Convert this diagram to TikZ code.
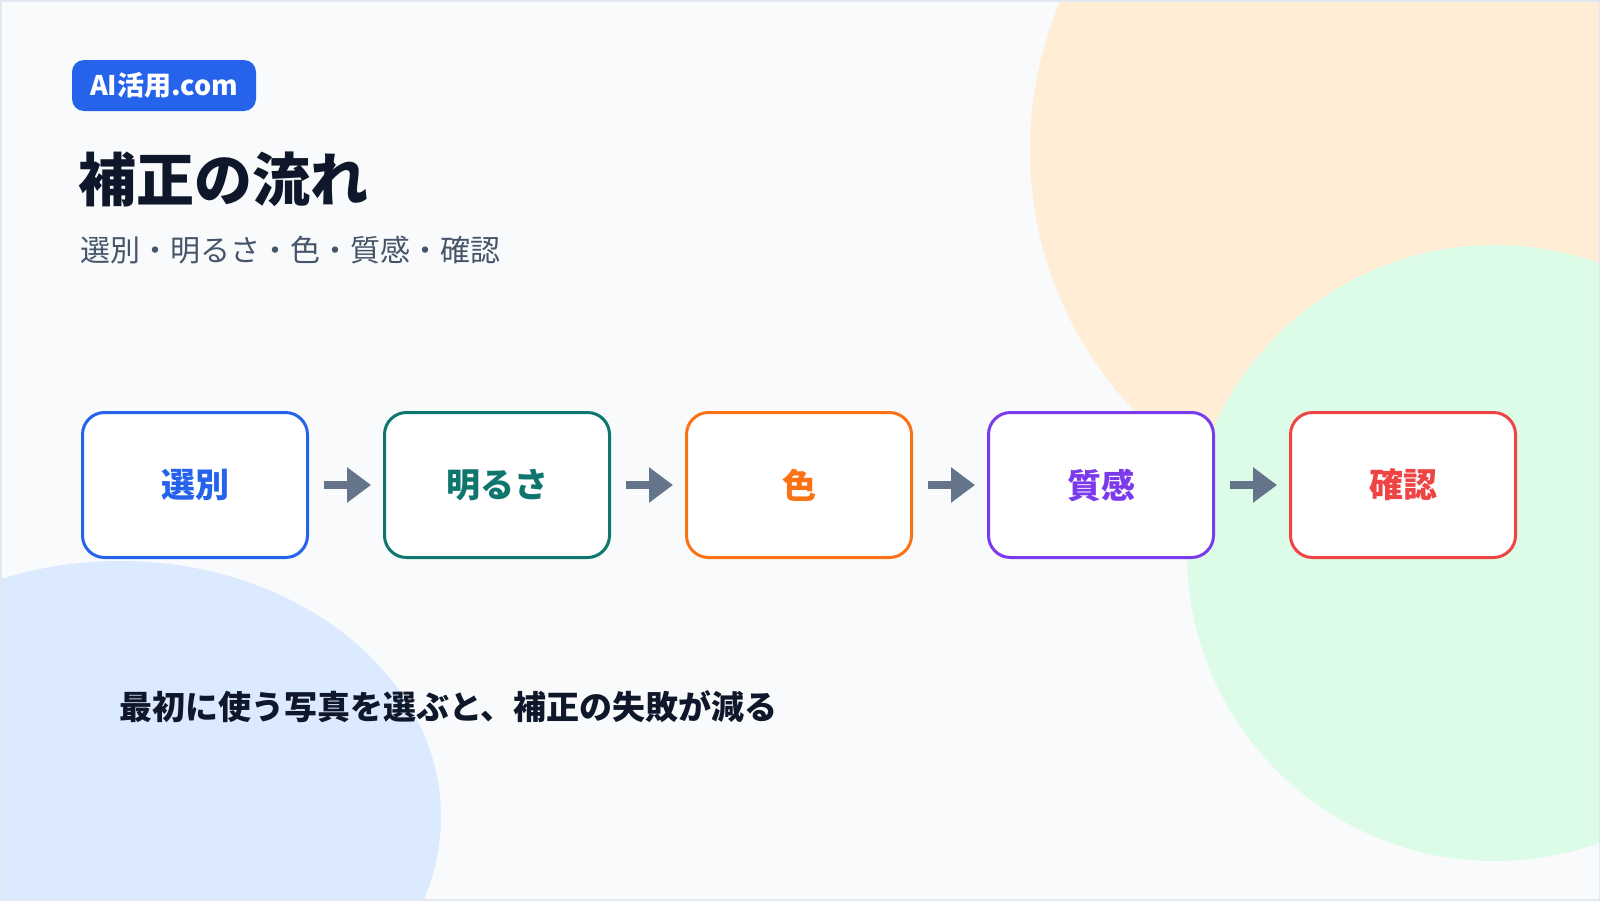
\documentclass[tikz,border=0pt]{standalone}
\usepackage{fontspec}
\setmainfont{Noto Sans CJK JP}
\usepackage{tikz}
\usetikzlibrary{arrows.meta,positioning}
\definecolor{rbg}{HTML}{F8FAFC}
\definecolor{rframe}{HTML}{E2E8F0}
\definecolor{rink}{HTML}{0F172A}
\definecolor{rsub}{HTML}{475569}
\definecolor{rgrey}{HTML}{64748B}
\definecolor{rblue}{HTML}{2563EB}
\definecolor{rteal}{HTML}{0F766E}
\definecolor{rorange}{HTML}{F97316}
\definecolor{rviolet}{HTML}{7C3AED}
\definecolor{rred}{HTML}{EF4444}
\definecolor{blobpeach}{HTML}{FFEDD5}
\definecolor{blobmint}{HTML}{DCFCE7}
\definecolor{blobsky}{HTML}{DBEAFE}

\begin{document}
\begin{tikzpicture}[
  x=1pt,y=-1pt,
  node distance=74pt,
  every node/.style={inner sep=0pt},
  bx/.style={draw=#1,text=#1,fill=white,line width=3pt,rounded corners=22pt,minimum width=225pt,minimum height=145pt,font=\fontsize{34}{40}\selectfont\bfseries},
  arrow/.style={-{Triangle[length=24pt,width=34pt]},line width=8pt,rgrey,shorten <=15pt,shorten >=12pt}
]
\useasboundingbox (0,0) rectangle (1600,900);
\fill[rbg] (0,0) rectangle (1600,900);
\begin{scope}
  \clip (0,0) rectangle (1600,900);
  \fill[blobpeach] (1408,150) circle[radius=378];
  \fill[blobmint] (1495,553) circle[radius=308];
  \fill[blobsky] (120,817) ellipse[x radius=321,y radius=256];
\end{scope}

\node[fill=rblue,rounded corners=12pt,minimum width=184pt,minimum height=51pt,text=white,font=\fontsize{27}{32}\selectfont\bfseries] (badge) at (164,85.5) {AI活用.com};
\node[anchor=west,text=rink,font=\fontsize{58}{66}\selectfont\bfseries] (title) at (78,180) {補正の流れ};
\node[anchor=west,text=rsub,font=\fontsize{30}{36}\selectfont] (sub) at (80,250) {選別・明るさ・色・質感・確認};

\node[bx=rblue] (sel) at (195,485) {選別};
\node[bx=rteal,right=of sel] (lum) {明るさ};
\node[bx=rorange,right=of lum] (hue) {色};
\node[bx=rviolet,right=of hue] (tex) {質感};
\node[bx=rred,right=of tex] (chk) {確認};
\foreach \a/\b in {sel/lum,lum/hue,hue/tex,tex/chk}
  \draw[arrow] (\a) -- (\b);

\node[anchor=west,text=rink,font=\fontsize{33}{40}\selectfont\bfseries] (note) at (119,707) {最初に使う写真を選ぶと、補正の失敗が減る};
\draw[rframe,line width=3pt] (0,0) rectangle (1600,900);
\end{tikzpicture}
\end{document}
